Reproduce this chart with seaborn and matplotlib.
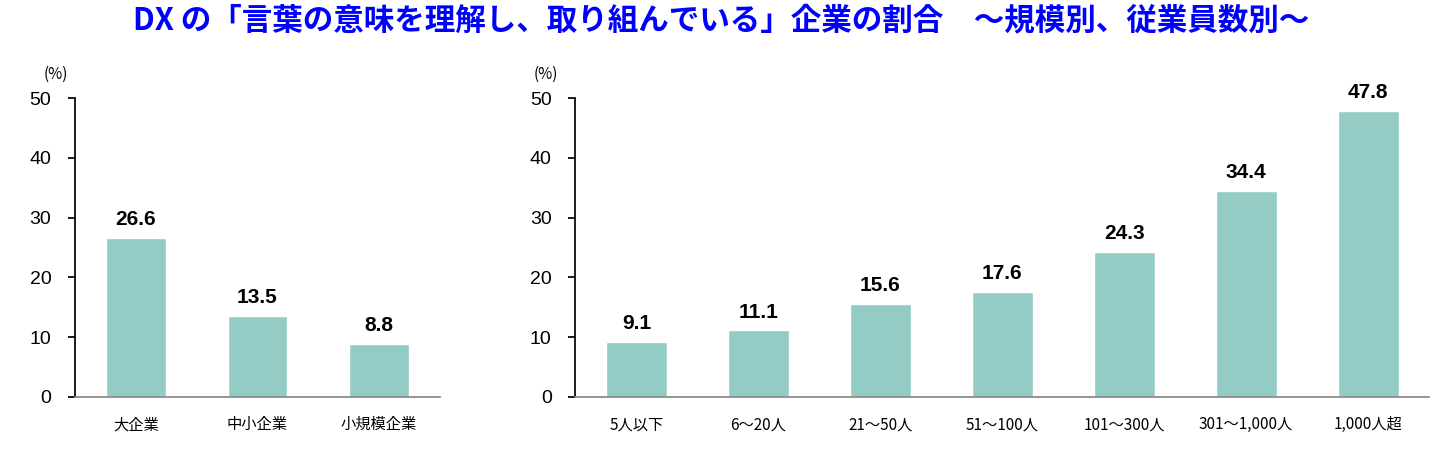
import matplotlib
matplotlib.use("Agg")
import matplotlib.pyplot as plt
import seaborn as sns
import pandas as pd

sns.set_theme(style="white")
plt.rcParams['font.family'] = ['Noto Sans CJK JP', 'DejaVu Sans']
plt.rcParams['text.color'] = 'black'
plt.rcParams['xtick.color'] = 'black'
plt.rcParams['ytick.color'] = 'black'

# データ
scale_labels = ['大企業', '中小企業', '小規模企業']
scale_values = [26.6, 13.5, 8.8]
emp_labels = ['5人以下', '6～20人', '21～50人', '51～100人', '101～300人', '301～1,000人', '1,000人超']
emp_values = [9.1, 11.1, 15.6, 17.6, 24.3, 34.4, 47.8]

bar_color = '#93CBC5'

fig = plt.figure(figsize=(14.42, 4.54), dpi=100)
ax1 = fig.add_axes([0.052, 0.126, 0.253, 0.658])
ax2 = fig.add_axes([0.399, 0.126, 0.592, 0.658])

def draw(ax, labels, values, width):
    df = pd.DataFrame({'cat': labels, 'val': values})
    sns.barplot(data=df, x='cat', y='val', color=bar_color, width=width,
                saturation=1, ax=ax)
    for i, v in enumerate(values):
        ax.text(i, v + 1.5, f'{v:.1f}', ha='center', va='bottom', color='black',
                fontsize=15, fontweight='bold', family=['Liberation Sans', 'DejaVu Sans'])
    ax.set_ylim(0, 50)
    ax.set_xlim(-0.5, len(values) - 0.5)
    ax.set_yticks(range(0, 51, 10))
    ax.set_xlabel('')
    ax.set_ylabel('')
    for s in ['top', 'right']:
        ax.spines[s].set_visible(False)
    ax.spines['left'].set_color('black')
    ax.spines['bottom'].set_color('#888888')
    ax.tick_params(axis='y', left=True, direction='out', length=5, labelsize=14, pad=12)
    ax.tick_params(axis='x', bottom=False, labelsize=11, pad=8)
    for t in ax.get_yticklabels():
        t.set_family(['Liberation Sans', 'DejaVu Sans'])
    ax.text(-0.02, 1.05, '(%)', transform=ax.transAxes, ha='right', va='bottom', fontsize=11)

draw(ax1, scale_labels, scale_values, 0.49)
draw(ax2, emp_labels, emp_values, 0.5)

fig.text(0.5, 0.955, 'DX の「言葉の意味を理解し、取り組んでいる」企業の割合　～規模別、従業員数別～',
         ha='center', va='center', fontsize=22, fontweight='bold', color='#0000FF')

fig.savefig('out.png', dpi=100)
